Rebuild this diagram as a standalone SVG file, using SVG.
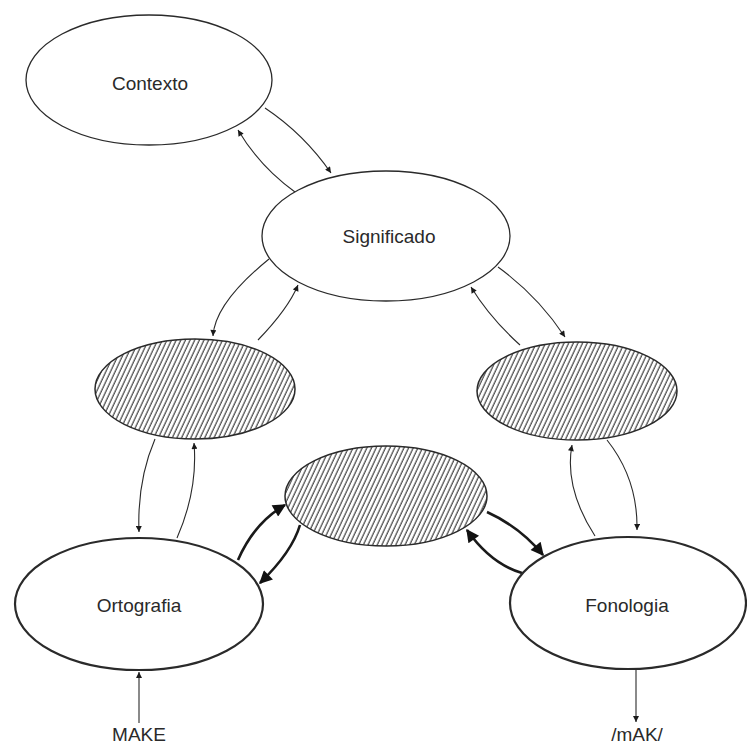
<svg xmlns="http://www.w3.org/2000/svg" width="747" height="745" viewBox="0 0 747 745">
<style>
  .node { fill: #fff; stroke: #2a2a2a; stroke-width: 1.3; }
  .bold { stroke-width: 2.2; }
  .hatch { fill: url(#hatch); stroke: #2a2a2a; stroke-width: 1.5; }
  .lbl { font-family: "Liberation Sans", Arial, sans-serif; font-size: 19px; fill: #2a2a2a; text-anchor: middle; }
  .thin { fill: none; stroke: #2a2a2a; stroke-width: 1.1; marker-end: url(#sm); }
  .thick { fill: none; stroke: #1a1a1a; stroke-width: 2.6; marker-end: url(#bg); }
</style>
<defs>
  <pattern id="hatch" patternUnits="userSpaceOnUse" width="4.2" height="10" patternTransform="rotate(25)">
    <rect width="4.2" height="10" fill="#fff"/>
    <line x1="1" y1="0" x2="1" y2="10" stroke="#333" stroke-width="1.1"/>
  </pattern>
  <marker id="sm" viewBox="0 0 10 10" refX="10" refY="5" markerWidth="7" markerHeight="6" markerUnits="userSpaceOnUse" orient="auto">
    <path d="M0,0 L10,5 L0,10 z" fill="#1a1a1a"/>
  </marker>
  <marker id="bg" viewBox="0 0 10 10" refX="9" refY="5" markerWidth="16" markerHeight="13" markerUnits="userSpaceOnUse" orient="auto">
    <path d="M0,0 L10,5 L0,10 z" fill="#111"/>
  </marker>
</defs>

<g id="connectors">
  <path class="thin" d="M295,192 Q260,167 238,130"/>
  <path class="thin" d="M265,108 Q304,134 331,173"/>
  <path class="thin" d="M269,259 Q215,303 213,336"/>
  <path class="thin" d="M258,340 Q288,309 298,285"/>
  <path class="thin" d="M498,267 Q538,296 565,337"/>
  <path class="thin" d="M520,345 Q490,318 471,287"/>
  <path class="thin" d="M155,439 Q137,481 139,532"/>
  <path class="thin" d="M177,538 Q198,490 194,443"/>
  <path class="thin" d="M595,536 Q564,488 572,445"/>
  <path class="thin" d="M607,440 Q638,479 637,530"/>
  <path class="thick" d="M238,560 Q254,523 285,505"/>
  <path class="thick" d="M300,525 Q292,552 260,583"/>
  <path class="thick" d="M487,512 Q520,527 543,555"/>
  <path class="thick" d="M522,573 Q491,564 467,530"/>
  <path class="thin" d="M139,723 L139,672"/>
  <path class="thin" d="M636,669 L636,722"/>
</g>

<g id="contexto">
  <ellipse class="node" cx="149" cy="80" rx="123" ry="65"/>
  <text class="lbl" x="150" y="90">Contexto</text>
</g>
<g id="significado">
  <ellipse class="node" cx="386" cy="236" rx="124" ry="65"/>
  <text class="lbl" x="389" y="243">Significado</text>
</g>
<g id="hatch-left">
  <ellipse class="hatch" cx="195" cy="389" rx="100" ry="50"/>
</g>
<g id="hatch-right">
  <ellipse class="hatch" cx="577" cy="391" rx="100" ry="49"/>
</g>
<g id="hatch-center">
  <ellipse class="hatch" cx="386" cy="496" rx="101" ry="50" stroke-width="2"/>
</g>
<g id="ortografia">
  <ellipse class="node bold" cx="139" cy="604" rx="124" ry="66"/>
  <text class="lbl" x="139" y="612">Ortografia</text>
</g>
<g id="fonologia">
  <ellipse class="node bold" cx="628" cy="603" rx="118" ry="66"/>
  <text class="lbl" x="627" y="612">Fonologia</text>
</g>
<g id="make">
  <text class="lbl" x="139" y="741">MAKE</text>
</g>
<g id="mak">
  <text class="lbl" x="637" y="741">/mAK/</text>
</g>
</svg>
